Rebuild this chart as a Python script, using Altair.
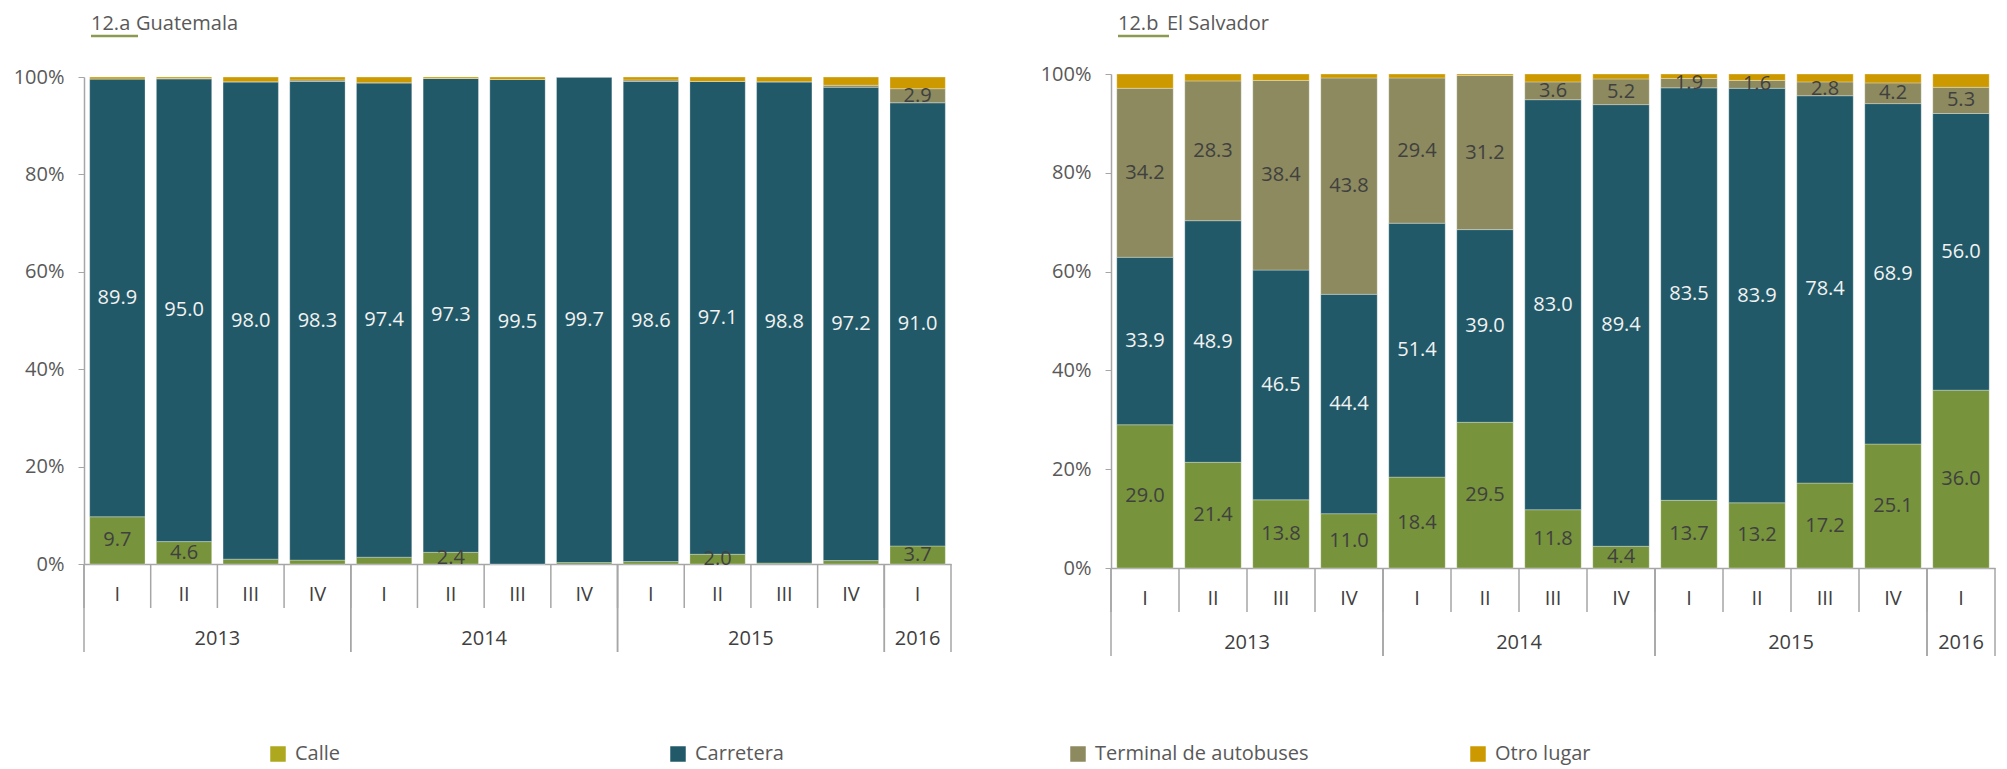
import altair as alt
import pandas as pd

# ---------------- data ----------------
years = ["2013", "2013", "2013", "2013", "2014", "2014", "2014", "2014",
         "2015", "2015", "2015", "2015", "2016"]
quarters = ["I", "II", "III", "IV", "I", "II", "III", "IV", "I", "II", "III", "IV", "I"]
series = ["Calle", "Carretera", "Terminal de autobuses", "Otro lugar"]

gt_calle = [9.7, 4.6, 1.0, 0.8, 1.4, 2.4, 0.0, 0.3, 0.5, 2.0, 0.2, 0.7, 3.7]
gt_carretera = [89.9, 95.0, 98.0, 98.3, 97.4, 97.3, 99.5, 99.7, 98.6, 97.1, 98.8, 97.2, 91.0]
gt_terminal = [0.0, 0.1, 0.0, 0.3, 0.0, 0.0, 0.0, 0.0, 0.3, 0.0, 0.0, 0.4, 2.9]
gt_otro = [0.4, 0.3, 1.0, 0.6, 1.2, 0.3, 0.5, 0.0, 0.6, 0.9, 1.0, 1.7, 2.4]

sv_calle = [29.0, 21.4, 13.8, 11.0, 18.4, 29.5, 11.8, 4.4, 13.7, 13.2, 17.2, 25.1, 36.0]
sv_carretera = [33.9, 48.9, 46.5, 44.4, 51.4, 39.0, 83.0, 89.4, 83.5, 83.9, 78.4, 68.9, 56.0]
sv_terminal = [34.2, 28.3, 38.4, 43.8, 29.4, 31.2, 3.6, 5.2, 1.9, 1.6, 2.8, 4.2, 5.3]
sv_otro = [2.9, 1.4, 1.3, 0.8, 0.8, 0.3, 1.6, 1.0, 0.9, 1.3, 1.6, 1.8, 2.7]

panel_codes = ["12.a", "12.b"]
panel_names = ["Guatemala", "El Salvador"]

# ---------------- styles ----------------
FONT = "Open Sans"
bar_colors = ["#77933C", "#215968", "#8C8A5E", "#CC9A00"]
legend_colors = ["#ADA81E", "#215968", "#8C8A5E", "#CC9A00"]
AXIS_GRAY = "#A6A6A6"
TEXT_GRAY = "#595959"


def long_table(vals):
    rows = []
    for i in range(len(years)):
        for k, s in enumerate(series):
            rows.append({"idx": i, "Serie": s, "orden": k, "Valor": vals[k][i]})
    return pd.DataFrame(rows)


periods = pd.DataFrame({"Año": years, "Trimestre": quarters, "idx": list(range(len(years)))})


def panel(vals, code, name, W, H, top_shift, name_x):
    df = long_table(vals)
    xscale = alt.Scale(domain=[0, len(years)], nice=False, zero=False)
    xaxis = alt.Axis(labels=False, ticks=False, grid=False, title=None,
                     domainColor=AXIS_GRAY, domainWidth=1.5)
    yscale = alt.Scale(domain=[0, 100], nice=False, range=[H, -top_shift])
    yaxis = alt.Axis(values=[0, 20, 40, 60, 80, 100], labelExpr="datum.value + '%'",
                     grid=False, title=None, tickSize=6, labelPadding=14,
                     domainColor=AXIS_GRAY, tickColor=AXIS_GRAY, domainWidth=1.5,
                     labelFont=FONT, labelFontSize=20, labelColor=TEXT_GRAY)

    def X(f):
        return alt.X(f, scale=xscale, axis=xaxis)

    def Y(f):
        return alt.Y(f, scale=yscale, axis=yaxis)

    base = alt.Chart(df).transform_stack(
        stack="Valor", groupby=["idx"], as_=["y0", "y1"],
        sort=[alt.SortField("orden", order="ascending")]
    ).transform_calculate(
        x0="datum.idx + 0.085", x1="datum.idx + 0.915",
        xm="datum.idx + 0.5", ym="(datum.y0 + datum.y1) / 2"
    )

    bars = base.mark_bar(stroke="#FFFFFF", strokeWidth=0.6, strokeOpacity=0.5).encode(
        x=X("x0:Q"), x2="x1:Q", y=Y("y1:Q"), y2="y0:Q",
        color=alt.Color("Serie:N", scale=alt.Scale(domain=series, range=bar_colors), legend=None),
    )

    labels = base.transform_filter(
        "datum.Serie != 'Otro lugar' && datum.Valor >= 1.5"
    ).mark_text(font=FONT, fontSize=20, baseline="middle").encode(
        x=X("xm:Q"), y=Y("ym:Q"),
        text=alt.Text("Valor:Q", format=".1f"),
        color=alt.condition("datum.Serie == 'Carretera'", alt.value("#F2F2F2"), alt.value("#404040")),
    )

    per = alt.Chart(periods)
    qrules = per.mark_rule(color=AXIS_GRAY, strokeWidth=1.5).encode(
        x=X("idx:Q"), y=alt.value(H), y2=alt.value(H + 44))
    qlabels = per.transform_calculate(xm="datum.idx + 0.5").mark_text(
        font=FONT, fontSize=20, color="#404040", baseline="middle").encode(
        x=X("xm:Q"), y=alt.value(H + 31), text="Trimestre:N")

    yr = per.transform_aggregate(
        start="min(idx)", last="max(idx)", groupby=["Año"]
    ).transform_calculate(end="datum.last + 1", mid="(datum.start + datum.last + 1) / 2")
    yrules_s = yr.mark_rule(color=AXIS_GRAY, strokeWidth=1.5).encode(
        x=X("start:Q"), y=alt.value(H), y2=alt.value(H + 88))
    yrules_e = yr.mark_rule(color=AXIS_GRAY, strokeWidth=1.5).encode(
        x=X("end:Q"), y=alt.value(H), y2=alt.value(H + 88))
    ylabels = yr.mark_text(font=FONT, fontSize=20, color="#404040", baseline="middle").encode(
        x=X("mid:Q"), y=alt.value(H + 75), text="Año:N")

    tdf = pd.DataFrame({"code": [code], "name": [name]})
    t1 = alt.Chart(tdf).mark_text(font=FONT, fontSize=20, color=TEXT_GRAY, align="left",
                                  baseline="alphabetic").encode(
        x=alt.value(7), y=alt.value(-47), text="code:N")
    t2 = alt.Chart(tdf).mark_text(font=FONT, fontSize=20, color=TEXT_GRAY, align="left",
                                  baseline="alphabetic").encode(
        x=alt.value(name_x), y=alt.value(-47), text="name:N")
    uline = alt.Chart(tdf).mark_rule(color="#8A9A50", strokeWidth=2.5).encode(
        x=alt.value(7), x2=alt.value(name_x + 2), y=alt.value(-41))

    return alt.layer(bars, labels, qrules, yrules_s, yrules_e, qlabels, ylabels, t1, t2, uline).properties(
        width=W, height=H)


left = panel([gt_calle, gt_carretera, gt_terminal, gt_otro], panel_codes[0], panel_names[0],
             867, 487, 0, 52)
right = panel([sv_calle, sv_carretera, sv_terminal, sv_otro], panel_codes[1], panel_names[1],
              884, 491, 3, 56)

legend_df = pd.DataFrame({"Serie": series})
lg = alt.Chart(legend_df).encode(
    x=alt.X("Serie:N", sort=series,
            scale=alt.Scale(domain=series, paddingInner=0, paddingOuter=0), axis=None)
)
lsq = lg.mark_square(size=240, opacity=1, xOffset=-6).encode(
    y=alt.value(10),
    color=alt.Color("Serie:N", scale=alt.Scale(domain=series, range=legend_colors), legend=None),
)
ltx = lg.mark_text(font=FONT, fontSize=20, color=TEXT_GRAY, align="left", baseline="middle",
                   xOffset=11).encode(y=alt.value(10), text="Serie:N")
legend = alt.layer(lsq, ltx).properties(width=1600, height=24)

chart = alt.vconcat(
    alt.hconcat(left, right, spacing=88),
    legend,
    spacing=87,
).resolve_scale(color="independent").properties(
    padding={"left": 5, "top": 6, "right": 0, "bottom": 0}
).configure_view(stroke=None)

chart.save("out.html", embed_options={"renderer": "svg", "actions": False})
